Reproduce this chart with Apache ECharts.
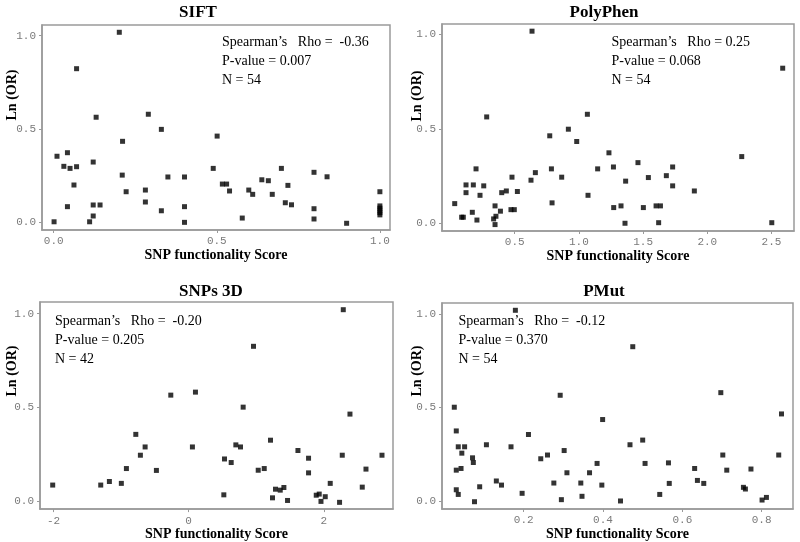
<!DOCTYPE html>
<html>
<head>
<meta charset="utf-8">
<script src="https://cdn.jsdelivr.net/npm/echarts@6/dist/echarts.min.js"></script>
<style>
html,body{margin:0;padding:0;background:#fff;}
#chart{width:800px;height:542px;}
</style>
</head>
<body>
<div id="chart"></div>
<script>
// ---- data ----
const panelTitles = ['SIFT', 'PolyPhen', 'SNPs 3D', 'PMut'];
const statLines = [
  ['Spearman\u2019s   Rho =  -0.36', 'P-value = 0.007', 'N = 54'],
  ['Spearman\u2019s   Rho = 0.25', 'P-value = 0.068', 'N = 54'],
  ['Spearman\u2019s   Rho =  -0.20', 'P-value = 0.205', 'N = 42'],
  ['Spearman\u2019s   Rho =  -0.12', 'P-value = 0.370', 'N = 54']
];
const xAxisName = 'SNP functionality Score';
const yAxisName = 'Ln (OR)';

const siftX = [0.201,0.070,0.130,0.290,0.330,0.211,0.010,0.042,0.031,0.050,
  0.070,0.121,0.062,0.210,0.350,0.401,0.222,0.281,0.281,0.330,
  0.042,0.121,0.142,0.121,0.110,0.001,0.401,0.401,0.501,0.489,
  0.517,0.530,0.539,0.578,0.598,0.610,0.638,0.658,0.670,0.698,
  0.718,0.710,0.729,0.798,0.838,0.798,0.798,0.898,1.0,1.0,
  1.0,1.0,1.0,1.0];
const siftY = [1.018,0.823,0.563,0.579,0.498,0.434,0.354,0.373,0.300,0.289,
  0.298,0.323,0.200,0.253,0.243,0.243,0.164,0.173,0.109,0.062,
  0.084,0.093,0.093,0.034,0.003,0.003,0.084,0.0,0.462,0.289,
  0.205,0.205,0.168,0.023,0.173,0.150,0.228,0.223,0.150,0.289,
  0.198,0.105,0.094,0.268,0.244,0.073,0.018,-0.005,0.164,0.040,
  0.052,0.064,0.076,0.088];

const polyX = [0.635,0.282,1.066,0.918,0.773,0.983,1.234,0.199,0.786,1.146,
  0.479,0.866,0.661,0.627,0.121,0.178,0.259,0.121,0.230,0.399,
  0.435,0.521,1.071,0.033,0.791,0.347,0.471,0.497,0.389,0.170,
  0.087,0.100,0.354,0.336,0.206,0.347,2.587,2.268,1.269,1.460,
  1.730,1.681,1.541,1.364,1.730,1.899,1.271,1.328,1.502,1.601,
  1.635,1.359,1.621,2.502];
const polyY = [1.017,0.563,0.577,0.498,0.463,0.433,0.373,0.288,0.288,0.288,
  0.244,0.244,0.268,0.228,0.203,0.203,0.198,0.162,0.148,0.162,
  0.171,0.168,0.148,0.104,0.108,0.092,0.072,0.072,0.064,0.058,
  0.032,0.032,0.037,0.023,0.017,-0.007,0.821,0.353,0.298,0.321,
  0.298,0.252,0.242,0.223,0.198,0.171,0.083,0.092,0.083,0.092,
  0.092,0.0,0.003,0.003];

const snpsX = [-0.264,0.101,-0.782,-0.644,0.056,-0.714,-0.921,-0.477,-2.012,-1.301,
  -1.173,-0.996,2.289,0.960,0.807,2.388,0.699,0.768,1.212,0.531,
  0.630,1.618,1.775,2.274,2.862,1.030,1.119,1.775,2.625,2.096,
  1.286,1.356,1.410,2.570,0.521,1.241,1.464,1.889,1.933,2.022,
  1.959,2.234];
const snpsY = [0.566,0.582,0.357,0.290,0.290,0.246,0.175,0.165,0.087,0.087,
  0.106,0.096,1.021,0.826,0.502,0.465,0.301,0.290,0.326,0.226,
  0.207,0.271,0.230,0.246,0.246,0.166,0.175,0.152,0.172,0.096,
  0.065,0.060,0.074,0.076,0.035,0.019,0.005,0.033,0.039,0.025,
  0.0,-0.005];

const pmutX = [0.179,0.292,0.025,0.399,0.030,0.212,0.035,0.051,0.106,0.168,
  0.044,0.302,0.260,0.243,0.071,0.073,0.385,0.030,0.042,0.309,
  0.366,0.131,0.144,0.276,0.344,0.397,0.089,0.030,0.035,0.196,
  0.347,0.295,0.076,0.475,0.697,0.850,0.468,0.500,0.702,0.843,
  0.506,0.565,0.631,0.712,0.773,0.567,0.638,0.654,0.543,0.444,
  0.754,0.759,0.801,0.812];
const pmutY = [1.021,0.566,0.502,0.436,0.375,0.356,0.290,0.290,0.301,0.290,
  0.256,0.270,0.246,0.226,0.231,0.206,0.201,0.165,0.174,0.151,
  0.151,0.107,0.085,0.096,0.096,0.085,0.076,0.060,0.035,0.041,
  0.025,0.007,-0.004,0.826,0.580,0.466,0.301,0.326,0.246,0.246,
  0.201,0.204,0.174,0.165,0.171,0.094,0.110,0.094,0.035,0.0,
  0.073,0.064,0.005,0.019];

const yTicks = [0, 0.5, 1.0];
const yTickLabels = ['0.0', '0.5', '1.0'];
const siftXTicks = [0, 0.5, 1.0];
const siftXTickLabels = ['0.0', '0.5', '1.0'];
const polyXTicks = [0.5, 1.0, 1.5, 2.0, 2.5];
const polyXTickLabels = ['0.5', '1.0', '1.5', '2.0', '2.5'];
const snpsXTicks = [-2, 0, 2];
const snpsXTickLabels = ['-2', '0', '2'];
const pmutXTicks = [0.2, 0.4, 0.6, 0.8];
const pmutXTickLabels = ['0.2', '0.4', '0.6', '0.8'];

// ---- layout ----
const xs = [siftX, polyX, snpsX, pmutX];
const ys = [siftY, polyY, snpsY, pmutY];
const xTicks = [siftXTicks, polyXTicks, snpsXTicks, pmutXTicks];
const xTickLabels = [siftXTickLabels, polyXTickLabels, snpsXTickLabels, pmutXTickLabels];
const grids = [
  {left: 42, top: 25, width: 348, height: 205},
  {left: 442, top: 24, width: 352, height: 207},
  {left: 40, top: 302, width: 353, height: 208},
  {left: 442, top: 303, width: 351, height: 206}
];
const xRanges = [[-0.036, 1.031], [-0.066, 2.675], [-2.2, 3.025], [-0.006, 0.879]];
const yRanges = [[-0.041, 1.057], [-0.041, 1.055], [-0.041, 1.062], [-0.043, 1.06]];
const nameGaps = [15, 15, 13, 13];
const titlePos = [[198, 12.5], [604, 12.5], [211, 291.5], [604, 291.5]];
const statPos = [[222, 42.7], [611.5, 42.7], [55, 321.7], [458.5, 321.7]];
const yNamePos = [[12, 95], [417, 96], [12, 371], [417, 371]];

const grey = '#9a9a9a';
const tickFont = {fontFamily: '"Liberation Mono", monospace', fontSize: 11, color: '#7a7a7a'};

function fmt(ticks, labels) {
  return function (v) {
    for (let i = 0; i < ticks.length; i++) if (Math.abs(ticks[i] - v) < 1e-9) return labels[i];
    return '';
  };
}

const option = {
  backgroundColor: '#fff',
  animation: false,
  grid: grids.map(g => Object.assign({show: true, borderColor: grey, borderWidth: 1.5, backgroundColor: 'transparent', containLabel: false}, g)),
  xAxis: grids.map((g, i) => ({
    type: 'value', gridIndex: i, min: xRanges[i][0], max: xRanges[i][1],
    splitLine: {show: false},
    axisLine: {show: true, onZero: false, lineStyle: {color: grey, width: 1.5}},
    axisTick: {show: true, length: 3, customValues: xTicks[i], lineStyle: {color: grey}},
    axisLabel: Object.assign({show: true, margin: 6, customValues: xTicks[i], formatter: fmt(xTicks[i], xTickLabels[i])}, tickFont),
    name: xAxisName, nameLocation: 'middle', nameGap: nameGaps[i],
    nameTextStyle: {fontFamily: '"Liberation Serif", serif', fontWeight: 'bold', fontSize: 14, color: '#000', verticalAlign: 'top'}
  })),
  yAxis: grids.map((g, i) => ({
    type: 'value', gridIndex: i, min: yRanges[i][0], max: yRanges[i][1],
    splitLine: {show: false},
    axisLine: {show: true, onZero: false, lineStyle: {color: grey, width: 1.5}},
    axisTick: {show: true, length: 3, customValues: yTicks, lineStyle: {color: grey}},
    axisLabel: Object.assign({show: true, margin: 6, customValues: yTicks, formatter: fmt(yTicks, yTickLabels)}, tickFont)
  })),
  series: xs.map((xv, i) => ({
    type: 'scatter', xAxisIndex: i, yAxisIndex: i,
    symbol: 'rect', symbolSize: 5,
    itemStyle: {color: '#000'},
    emphasis: {disabled: true},
    data: xv.map((x, k) => [x, ys[i][k]])
  })),
  graphic: [].concat(
    panelTitles.map((t, i) => ({
      type: 'text', x: titlePos[i][0], y: titlePos[i][1],
      style: {text: t, font: 'bold 17px "Liberation Serif", serif', fill: '#000', align: 'center', verticalAlign: 'middle'}
    })),
    yNamePos.map((p, i) => ({
      type: 'text', x: p[0], y: p[1], rotation: Math.PI / 2,
      style: {text: yAxisName, font: 'bold 14px "Liberation Serif", serif', fill: '#000', align: 'center', verticalAlign: 'middle'}
    })),
    statLines.flatMap((lines, i) => lines.map((s, k) => ({
      type: 'text', x: statPos[i][0], y: statPos[i][1] + k * 18.7,
      style: {text: s, font: '14px "Liberation Serif", serif', fill: '#000', align: 'left', verticalAlign: 'middle'}
    })))
  )
};

const chart = echarts.init(document.getElementById('chart'), null, {renderer: 'canvas'});
chart.setOption(option);
</script>
</body>
</html>
